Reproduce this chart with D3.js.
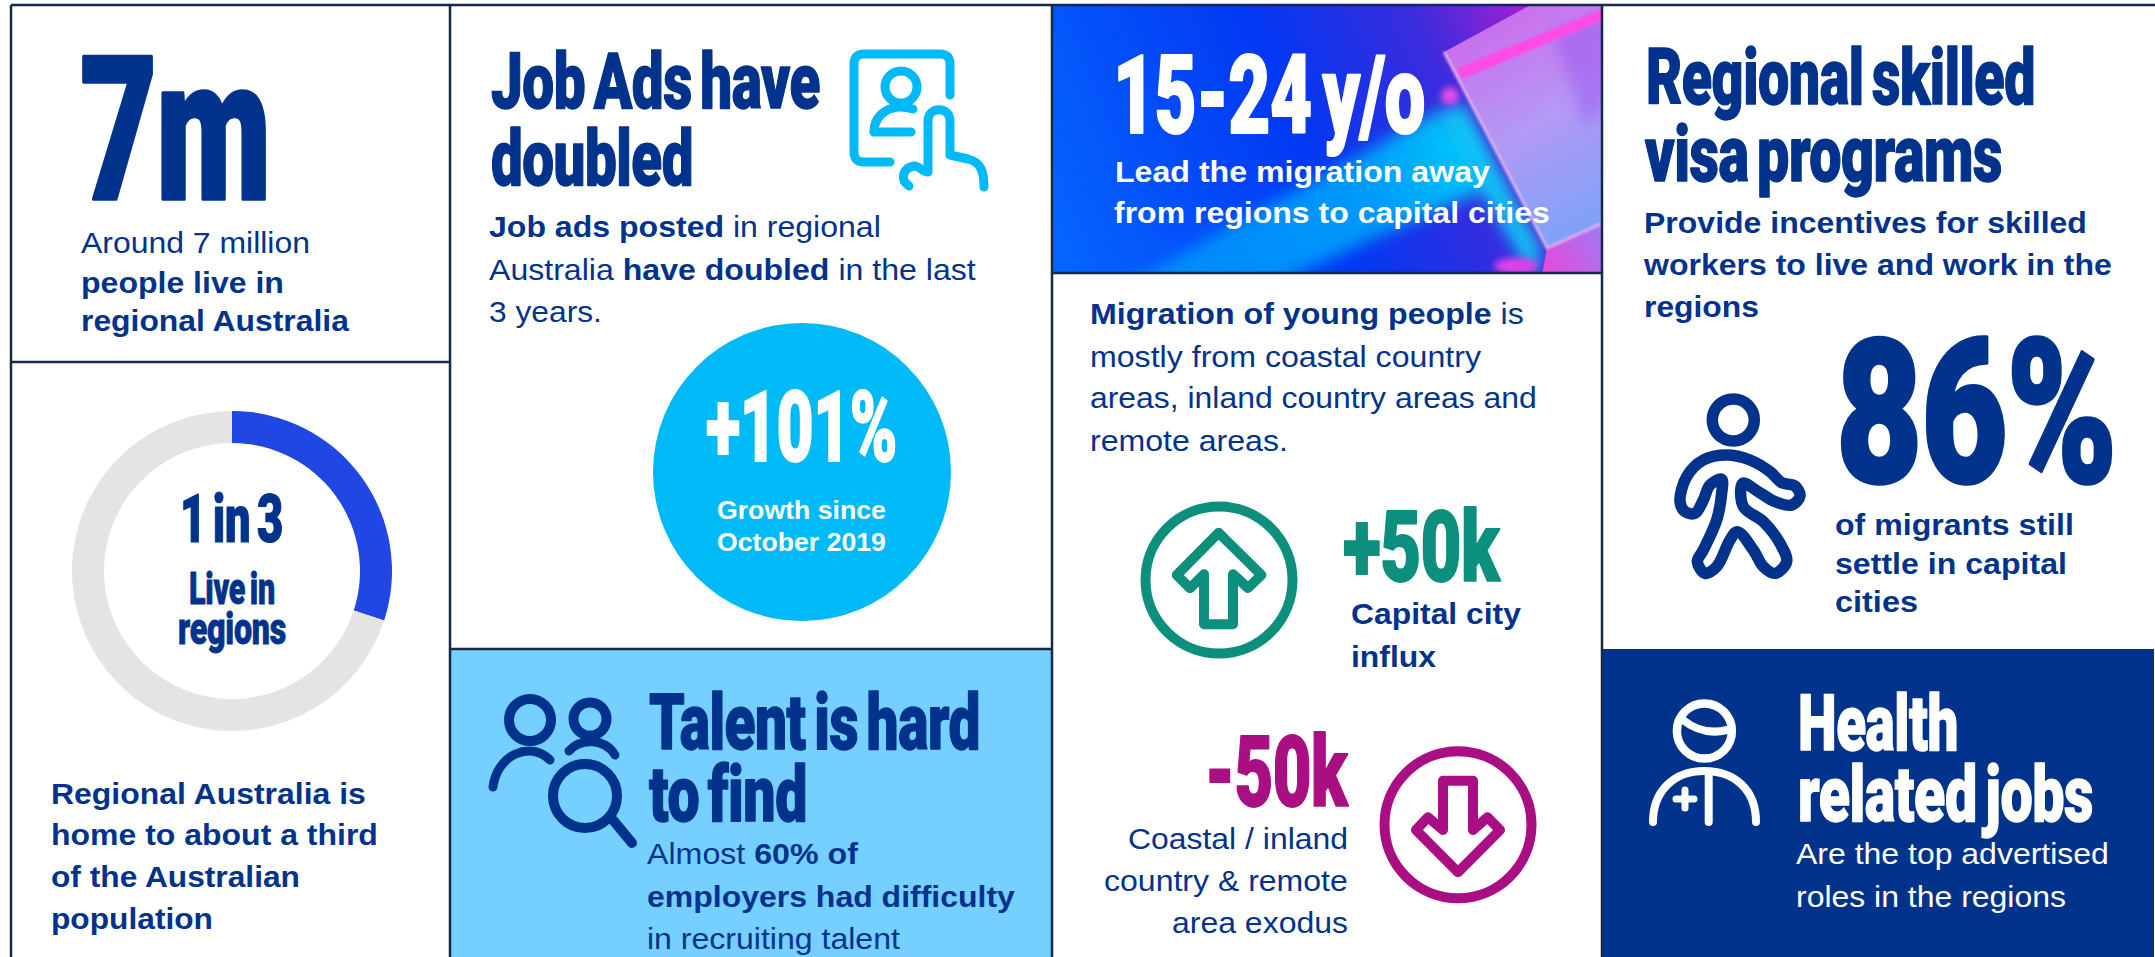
<!DOCTYPE html>
<html>
<head>
<meta charset="utf-8">
<script src="https://d3js.org/d3.v7.min.js"></script>
<style>
  html, body { margin: 0; padding: 0; background: #fff; overflow: hidden; }
  svg { display: block; }
  text { white-space: pre; }
</style>
</head>
<body>
<script>
  // data
  const donutNames = ["Live in regions", "Rest of Australia"];
  const donutShares = [30, 70];

  const statSeven = ["7m"];
  const sevenText = ["Around 7 million", "*people live in", "*regional Australia"];
  const donutTitle = ["1 in 3"];
  const donutSub = ["Live in", "regions"];
  const donutText = ["*Regional Australia is", "*home to about a third", "*of the Australian", "*population"];

  const jobTitle = ["Job Ads have", "doubled"];
  const jobText = ["*Job ads posted* in regional", "Australia *have doubled* in the last", "3 years."];
  const growthStat = ["+101%"];
  const growthText = ["*Growth since", "*October 2019"];

  const talentTitle = ["Talent is hard", "to find"];
  const talentText = ["Almost *60% of", "*employers had difficulty", "in recruiting talent"];

  const youthTitle = ["15-24 y/o"];
  const youthText = ["*Lead the migration away", "*from regions to capital cities"];
  const migrationText = ["*Migration of young people* is", "mostly from coastal country", "areas, inland country areas and", "remote areas."];
  const gainStat = ["+50k"];
  const gainText = ["*Capital city", "*influx"];
  const lossStat = ["-50k"];
  const lossText = ["Coastal / inland", "country & remote", "area exodus"];

  const visaTitle = ["Regional skilled", "visa programs"];
  const visaText = ["*Provide incentives for skilled", "*workers to live and work in the", "*regions"];
  const settleStat = ["86%"];
  const settleText = ["*of migrants still", "*settle in capital", "*cities"];
  const healthTitle = ["Health", "related jobs"];
  const healthText = ["Are the top advertised", "roles in the regions"];

  const navy = "#01338D";
  const cyan = "#00B9F7";
  const green = "#0C8F7C";
  const magenta = "#A90F82";
  const rule = "#16294A";

  const width = 2155;
  const height = 957;

  const svg = d3.select("body").append("svg")
    .attr("width", width)
    .attr("height", height);

  const defs = svg.append("defs");

  // banner artwork gradients
  function gradient(id, x1, y1, x2, y2, stops) {
    const g = defs.append("linearGradient")
      .attr("id", id)
      .attr("gradientUnits", "userSpaceOnUse")
      .attr("x1", x1).attr("y1", y1).attr("x2", x2).attr("y2", y2);
    stops.forEach(function (s) {
      g.append("stop").attr("offset", s[0]).attr("stop-color", s[1]);
    });
  }
  gradient("bannerBg", 1052, 230, 1600, 0, [[0, "#0564FF"], [0.45, "#0238F2"], [0.7, "#3A2CDC"], [0.88, "#A020D4"], [1, "#C21FD4"]]);
  gradient("band", 1133, 272, 1480, 130, [[0, "#0088FA"], [0.65, "#0098FA"], [1, "#08CCF8"]]);
  gradient("prism", 1470, 40, 1590, 240, [[0, "#CE74EE"], [0.45, "#B6A0F6"], [1, "#78AAFA"]]);
  gradient("prismFoot", 1545, 272, 1604, 240, [[0, "#E848DC"], [1, "#A278F2"]]);
  function blur(id, s) {
    defs.append("filter").attr("id", id).attr("x", "-30%").attr("y", "-30%").attr("width", "160%").attr("height", "160%")
      .append("feGaussianBlur").attr("stdDeviation", s);
  }
  blur("blur8", 8);
  blur("blur3", 3);
  blur("blur1", 1);
  defs.append("clipPath").attr("id", "bannerClip")
    .append("rect").attr("x", 1052).attr("y", 5).attr("width", 550).attr("height", 268);

  // panels
  svg.append("rect").attr("width", width).attr("height", height).attr("fill", "#fff");
  svg.append("rect").attr("x", 450).attr("y", 649).attr("width", 602).attr("height", 308).attr("fill", "#75CFFF");
  svg.append("rect").attr("x", 1602).attr("y", 649).attr("width", 552).attr("height", 308).attr("fill", navy);

  const banner = svg.append("g").attr("clip-path", "url(#bannerClip)");
  banner.append("rect").attr("x", 1052).attr("y", 5).attr("width", 550).attr("height", 268).attr("fill", "url(#bannerBg)");
  banner.append("path")
    .attr("d", "M1125,285 L1436,113 L1467,133 L1490,187 L1270,285 Z")
    .attr("fill", "url(#band)")
    .attr("filter", "url(#blur8)");
  banner.append("path")
    .attr("d", "M1436,113 L1464,103 L1541,250 L1534,280 L1506,233 Z")
    .attr("fill", "#0CC4F4")
    .attr("filter", "url(#blur8)");
  banner.append("ellipse").attr("cx", 1516).attr("cy", 266).attr("rx", 22).attr("ry", 8).attr("fill", "#E040E8").attr("filter", "url(#blur3)");
  banner.append("circle").attr("cx", 1450).attr("cy", 96).attr("r", 9).attr("fill", "#E04CE8").attr("filter", "url(#blur3)");
  banner.append("path")
    .attr("d", "M1444,52 L1540,0 L1610,0 L1610,220 L1547,248 Z")
    .attr("fill", "url(#prism)")
    .attr("opacity", 0.95);
  banner.append("path")
    .attr("d", "M1552,34 L1610,12 L1610,100 L1586,128 Z")
    .attr("fill", "#9448F0")
    .attr("opacity", 0.45)
    .attr("filter", "url(#blur8)");
  banner.append("path")
    .attr("d", "M1457,68 L1610,6 L1610,17 L1462,79 Z")
    .attr("fill", "#FF4CE6")
    .attr("filter", "url(#blur1)");
  banner.append("path")
    .attr("d", "M1547,248 L1610,220 L1610,280 L1541,280 Z")
    .attr("fill", "url(#prismFoot)");
  banner.append("path")
    .attr("d", "M1444,52 L1547,248 L1610,220")
    .attr("fill", "none")
    .attr("stroke", "#F0B8F0")
    .attr("stroke-width", 3)
    .attr("opacity", 0.8)
    .attr("filter", "url(#blur1)");

  // grid rules
  const rules = [
    [11, 5, 2155, 5],
    [11, 5, 11, 957],
    [450, 5, 450, 957],
    [1052, 5, 1052, 957],
    [1602, 5, 1602, 957],
    [11, 362, 450, 362],
    [450, 649, 1052, 649],
    [1052, 273, 1602, 273]
  ];
  svg.append("g").selectAll("line").data(rules).enter().append("line")
    .attr("x1", function (d) { return d[0]; })
    .attr("y1", function (d) { return d[1]; })
    .attr("x2", function (d) { return d[2]; })
    .attr("y2", function (d) { return d[3]; })
    .attr("stroke", rule)
    .attr("stroke-width", 2.5);

  // donut
  const pie = d3.pie().sort(null);
  const arc = d3.arc().innerRadius(128).outerRadius(160);
  const donutColor = d3.scaleOrdinal().domain(donutNames).range(["#2046E4", "#E4E4E4"]);
  svg.append("g")
    .attr("transform", "translate(232,571)")
    .selectAll("path")
    .data(pie(donutShares))
    .enter()
    .append("path")
    .attr("d", arc)
    .attr("fill", function (d, i) { return donutColor(donutNames[i]); });

  // a line of text is squeezed or stretched to the width it has in the picture
  function place(lines, o) {
    lines.forEach(function (line, i) {
      const t = svg.append("text")
        .attr("font-family", "'Liberation Sans'")
        .attr("font-size", o.size)
        .attr("fill", o.fill || navy);
      line.split("*").forEach(function (run, k) {
        if (run === "") return;
        t.append("tspan")
          .attr("font-weight", k % 2 === 1 ? 700 : 400)
          .text(run);
      });
      const natural = t.node().getComputedTextLength();
      const w = o.w[i] + 2;
      const left = (o.anchor === "end" ? o.x[i] - o.w[i] : o.x[i]) - 1;
      t.attr("transform", "translate(" + left + "," + o.y[i] + ") scale(" + (w / natural) + ",1)");
    });
  }

  // big condensed headings: heavy face, tight spacing, a little outline for weight
  function title(lines, o) {
    const thick = o.size * 0.018;
    lines.forEach(function (line, i) {
      const t = svg.append("text")
        .attr("font-family", "Roboto")
        .attr("font-weight", 900)
        .attr("font-size", o.size)
        .attr("word-spacing", -o.size * 0.09)
        .attr("letter-spacing", -o.size * 0.008)
        .attr("fill", o.fill || navy)
        .attr("stroke", o.fill || navy)
        .attr("stroke-width", thick)
        .attr("stroke-linejoin", "round")
        .text(line);
      const natural = t.node().getComputedTextLength();
      t.attr("transform", "translate(" + o.x[i] + "," + (o.y[i] - thick / 2) + ") scale(" + (o.w[i] / natural) + ",1)");
    });
  }

  title(statSeven, { x: [80], y: [201], w: [190], size: 200 });
  place(sevenText, { x: [82, 82, 82], y: [253, 293, 331], w: [227, 201, 266], size: 29 });

  title(donutTitle, { x: [180], y: [543], w: [103], size: 67 });
  title(donutSub, { x: [189, 178], y: [604, 644], w: [86, 108], size: 44 });
  place(donutText, { x: [52, 52, 52, 52], y: [804, 845, 887, 929], w: [313, 325, 247, 160], size: 30 });

  title(jobTitle, { x: [491, 491], y: [109, 186], w: [329, 202], size: 78 });
  place(jobText, { x: [490, 490, 490], y: [237, 280, 322], w: [390, 485, 111], size: 30 });
  svg.append("circle").attr("cx", 802).attr("cy", 472).attr("r", 149).attr("fill", cyan);
  title(growthStat, { x: [706], y: [462], w: [191], size: 98, fill: "#fff" });
  place(growthText, { x: [718, 718], y: [519, 551], w: [167, 167], size: 26, fill: "#fff" });

  title(talentTitle, { x: [649, 649], y: [750, 822], w: [331, 158], size: 78 });
  place(talentText, { x: [648, 648, 648], y: [864, 907, 949], w: [209, 366, 251], size: 30 });

  title(youthTitle, { x: [1113], y: [134], w: [312], size: 110, fill: "#fff" });
  place(youthText, { x: [1116, 1115], y: [182, 223], w: [373, 434], size: 30, fill: "#fff" });
  place(migrationText, { x: [1091, 1091, 1091, 1091], y: [324, 367, 408, 451], w: [432, 389, 445, 196], size: 30 });

  title(gainStat, { x: [1343], y: [582], w: [156], size: 98, fill: green });
  place(gainText, { x: [1352, 1352], y: [624, 667], w: [168, 83], size: 30 });
  title(lossStat, { x: [1205], y: [807], w: [142], size: 98, fill: magenta });
  place(lossText, { x: [1347, 1347, 1347], y: [849, 891, 933], w: [218, 242, 174], size: 30, anchor: "end" });

  title(visaTitle, { x: [1646, 1645], y: [105, 182], w: [389, 357], size: 78 });
  place(visaText, { x: [1645, 1645, 1645], y: [233, 275, 317], w: [441, 466, 113], size: 30 });
  title(settleStat, { x: [1836], y: [484], w: [280], size: 200 });
  place(settleText, { x: [1836, 1836, 1836], y: [535, 574, 612], w: [237, 230, 81], size: 30 });

  title(healthTitle, { x: [1798, 1798], y: [751, 822], w: [160, 295], size: 78, fill: "#fff" });
  place(healthText, { x: [1797, 1797], y: [864, 907], w: [311, 268], size: 30, fill: "#fff" });

  // icons, stroked outlines
  function icon(parts, color) {
    const g = svg.append("g")
      .attr("fill", "none")
      .attr("stroke", color)
      .attr("stroke-linecap", "round")
      .attr("stroke-linejoin", "round");
    parts.forEach(function (p) {
      g.append("path").attr("d", p[0]).attr("stroke-width", p[1]);
    });
  }
  function ring(cx, cy, r) {
    return "M" + (cx - r) + "," + cy + "a" + r + "," + r + " 0 1,0 " + (2 * r) + ",0a" + r + "," + r + " 0 1,0 " + (-2 * r) + ",0";
  }

  // person tapping a job ad
  icon([
    ["M950,95 V64 Q950,54 940,54 H864 Q854,54 854,64 V152 Q854,162 864,162 H890", 9],
    [ring(901, 87, 16), 9],
    ["M913,109 C890,102 874,115 874,132 H911", 9],
    ["M909,186 C900,180 902,168 914,166 C920,166 922,172 928,172 V121 C928,106 950,106 950,121 V155 L968,159 C980,162 984,170 984,187", 9]
  ], cyan);

  // two people and a magnifier
  icon([
    [ring(530, 720, 21), 10],
    [ring(590, 719, 16.5), 10],
    ["M493,787 C497,755 530,740 550,760", 9],
    ["M569,751 C580,738 605,738 615,755", 9],
    [ring(585, 796, 32), 10],
    ["M613,820 L632,843", 10]
  ], navy);

  // arrows in circles
  icon([
    [ring(1219, 580, 73.5), 10],
    ["M1218.6,532.7 L1261.4,575 L1248,588 L1233,574.3 V624.3 H1204 V574.3 L1190,588.3 L1176.8,575 Z", 10]
  ], green);
  icon([
    [ring(1458, 824.7, 73.5), 10],
    ["M1458,872.3 L1500,830 L1487.5,817.3 L1473,830 V780.7 H1443 V830 L1428,817.3 L1416,830 Z", 10]
  ], magenta);

  // walking person, traced at 3x from its top-left corner
  const walkerOutline = [
    [200, 225], [270, 240], [330, 275], [365, 308], [405, 318], [420, 348], [395, 375], [345, 365], [295, 335],
    [248, 310], [250, 380], [310, 425], [360, 490], [380, 545], [345, 580], [310, 560], [280, 510], [232, 455],
    [210, 480], [170, 560], [135, 580], [112, 545], [130, 510], [170, 420], [185, 340], [185, 298], [150, 315],
    [130, 360], [105, 400], [75, 395], [60, 365], [80, 290], [130, 240]
  ];
  const walkerLine = d3.line()
    .x(function (d) { return 1660 + d[0] / 3; })
    .y(function (d) { return 380 + d[1] / 3; })
    .curve(d3.curveCatmullRomClosed.alpha(0.5));
  icon([
    [ring(1733.3, 420, 21), 11.5],
    [walkerLine(walkerOutline), 11.5]
  ], navy);

  // health worker
  icon([
    [ring(1704.4, 731, 27.5), 8.5],
    ["M1683,720 Q1703,736 1727,730", 8],
    ["M1653,822 C1653,790 1675,771 1704,771 C1735,771 1756,790 1756,822", 8],
    ["M1708.7,773 V822", 8],
    ["M1676,799 H1694 M1685,790 V808", 7]
  ], "#fff");
</script>
</body>
</html>
